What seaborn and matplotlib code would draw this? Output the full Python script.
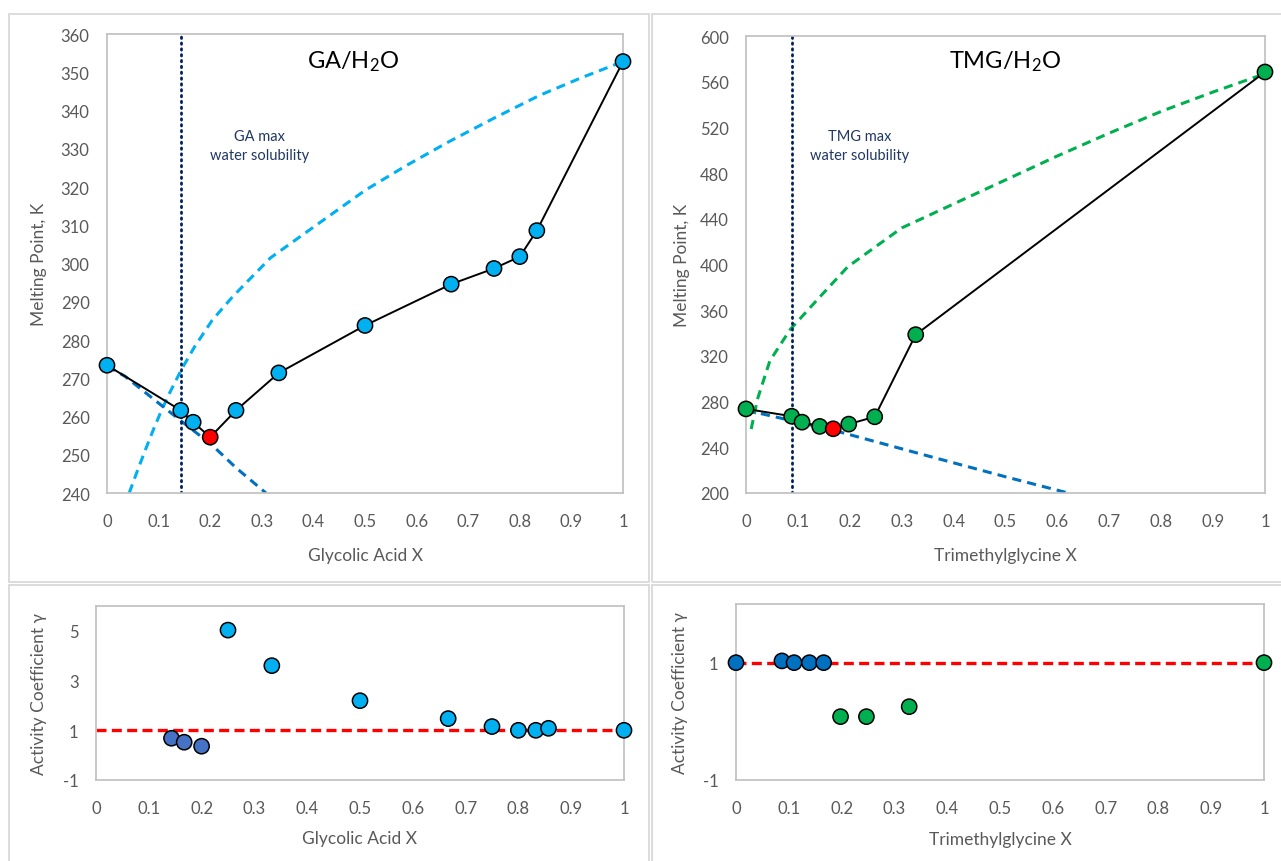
import numpy as np
import pandas as pd
import matplotlib
matplotlib.use("Agg")
import matplotlib.pyplot as plt
import seaborn as sns
from matplotlib.patches import Rectangle
from matplotlib.ticker import MultipleLocator, FuncFormatter, FixedLocator

# ---------------- data ----------------
# Glycolic acid / water melting points
ga_x = [0.0, 0.143, 0.167, 0.2, 0.25, 0.333, 0.5, 0.667, 0.75, 0.8, 0.833, 1.0]
ga_T = [273.4, 261.6, 258.5, 254.6, 261.6, 271.4, 283.8, 294.6, 298.7, 301.8, 308.6, 352.8]
ga_eutectic = 3
# ideal solubility curve of GA
ga_ideal_x = [0.043, 0.060, 0.075, 0.090, 0.105, 0.120, 0.144, 0.170, 0.204, 0.244, 0.317,
              0.400, 0.501, 0.580, 0.662, 0.750, 0.839, 0.920, 1.0]
ga_ideal_T = [240.0, 246.2, 251.5, 256.6, 261.4, 265.8, 272.2, 278.3, 285.2, 291.4, 301.5,
              309.5, 319.2, 325.6, 331.8, 338.0, 344.0, 348.6, 352.8]
# ideal freezing curve of water (GA system)
ga_water_x = [0.0, 0.035, 0.1, 0.144, 0.203, 0.25, 0.308]
ga_water_T = [273.15, 270.5, 263.5, 258.8, 252.6, 246.6, 240.0]
ga_sol_x = 0.143

# Trimethylglycine / water melting points
tmg_x = [0.0, 0.088, 0.108, 0.142, 0.168, 0.198, 0.248, 0.327, 1.0]
tmg_T = [273.6, 267.2, 262.0, 258.3, 256.2, 260.3, 266.7, 338.6, 568.5]
tmg_eutectic = 4
tmg_ideal_x = [0.010, 0.022, 0.046, 0.085, 0.141, 0.196, 0.300, 0.400, 0.500, 0.600, 0.700, 0.800, 0.900, 1.0]
tmg_ideal_T = [256.0, 282.0, 315.7, 343.0, 371.0, 398.0, 432.0, 453.0, 474.0, 495.0, 515.0, 534.0, 551.0, 567.0]
tmg_water_x = [0.0, 0.168, 0.346, 0.5, 0.625]
tmg_water_T = [272.5, 255.0, 233.0, 214.2, 199.5]
tmg_sol_x = 0.088

# activity coefficients
gam_ga_x = [0.143, 0.167, 0.2, 0.25, 0.333, 0.5, 0.667, 0.75, 0.8, 0.833, 0.857, 1.0]
gam_ga = [0.68, 0.52, 0.36, 5.03, 3.6, 2.19, 1.47, 1.15, 1.0, 1.0, 1.08, 1.0]
gam_ga_group = ["low"] * 3 + ["high"] * 9

gam_tmg_x = [0.0, 0.087, 0.11, 0.139, 0.166, 0.198, 0.247, 0.328, 1.0]
gam_tmg = [1.0, 1.03, 1.0, 1.0, 1.0, 0.08, 0.08, 0.25, 1.0]
gam_tmg_group = ["water"] * 5 + ["tmg"] * 4

ideal_x = [0.0, 1.0]
ideal_gamma = [1.0, 1.0]

# ---------------- style ----------------
sns.set_theme(style="white")
plt.rcParams["font.family"] = ["Lato", "DejaVu Sans"]
plt.rcParams["mathtext.fontset"] = "custom"
plt.rcParams["mathtext.rm"] = "Lato"
plt.rcParams["mathtext.it"] = "Lato"

GRAY_TXT = "#595959"
SPINE = "#bfbfbf"
LBLUE = "#00B0F0"
DBLUE = "#0070C0"
GREEN = "#00B050"
RED = "#FF0000"
NAVY = "#002060"
TXTBLUE = "#203864"
MS = 120

W, H = 1281, 862
fig = plt.figure(figsize=(W / 100, H / 100), dpi=100)


def px_axes(l, t, r, b):
    return fig.add_axes([l / W, 1 - b / H, (r - l) / W, (b - t) / H])


for (x0, y0, x1, y1) in [(9, 15, 649, 583), (652, 15, 1290, 583), (9, 586, 649, 880), (652, 586, 1290, 880)]:
    fig.add_artist(Rectangle((x0 / W, 1 - y1 / H), (x1 - x0) / W, (y1 - y0) / H,
                             transform=fig.transFigure, fill=False, ec="#d9d9d9", lw=1.3))

fmt = FuncFormatter(lambda v, p: f"{v:g}")


def style_axes(ax, ylim, ymajor, yminor, xlabel, ylabel, xlabel_y, ylabel_x, yticks=None):
    ax.set_xlim(0, 1)
    ax.set_ylim(*ylim)
    ax.xaxis.set_major_locator(MultipleLocator(0.1))
    ax.xaxis.set_minor_locator(MultipleLocator(0.02))
    if yticks is not None:
        ax.yaxis.set_major_locator(FixedLocator(yticks))
    else:
        ax.yaxis.set_major_locator(MultipleLocator(ymajor))
    ax.yaxis.set_minor_locator(FixedLocator(list(np.arange(ylim[0], ylim[1] + 1e-9, yminor))))
    ax.xaxis.set_major_formatter(fmt)
    ax.yaxis.set_major_formatter(fmt)
    for s in ax.spines.values():
        s.set_visible(True)
        s.set_color(SPINE)
        s.set_linewidth(1.2)
    ax.tick_params(axis="both", which="major", direction="inout", length=5, width=1,
                   color=SPINE, labelcolor=GRAY_TXT, labelsize=12)
    ax.tick_params(axis="both", which="minor", direction="in", length=3.5, width=1, color=SPINE)
    ax.tick_params(axis="x", which="major", pad=12)
    ax.tick_params(axis="y", which="major", pad=10)
    ax.set_xlabel(xlabel, color=GRAY_TXT, fontsize=12.5)
    ax.set_ylabel(ylabel, color=GRAY_TXT, fontsize=12.5)
    ax.xaxis.set_label_coords(0.5, xlabel_y)
    ax.yaxis.set_label_coords(ylabel_x, 0.5)
    ax.set_facecolor("white")


def dashed(ax, x, y, color, lw=2.2):
    sns.lineplot(x=x, y=y, ax=ax, color=color, lw=lw, sort=False, estimator=None,
                 linestyle=(0, (3, 2)), legend=False)


def melting_panel(ax, x, T, eut, curve_x, curve_T, water_x, water_T, sol_x, color, title, note,
                  title_xy, note_xy):
    dashed(ax, curve_x, curve_T, LBLUE if color == LBLUE else GREEN)
    dashed(ax, water_x, water_T, DBLUE)
    ax.axvline(sol_x, color=NAVY, lw=2.0, linestyle=(0, (0.5, 1.6)), dash_capstyle="round", zorder=2)
    sns.lineplot(x=x, y=T, ax=ax, color="black", lw=1.4, sort=False, estimator=None, zorder=3, legend=False)
    cols = [RED if i == eut else color for i in range(len(x))]
    df = pd.DataFrame({"x": x, "T": T, "c": cols})
    sns.scatterplot(data=df, x="x", y="T", hue="c", palette={RED: RED, color: color}, ax=ax, s=MS,
                    edgecolor="black", linewidth=1.1, zorder=4, legend=False, clip_on=False)
    ax.text(title_xy[0], title_xy[1], title, fontsize=17, color="black", ha="center", va="center")
    ax.text(note_xy[0], note_xy[1], note, fontsize=10.5, color=TXTBLUE, ha="center", va="center",
            linespacing=1.5)


# ---- top left ----
ax1 = px_axes(107, 35, 623, 494)
melting_panel(ax1, ga_x, ga_T, ga_eutectic, ga_ideal_x, ga_ideal_T, ga_water_x, ga_water_T,
              ga_sol_x, LBLUE, "GA/H$_2$O", "GA max\nwater solubility", (0.477, 353.0), (0.295, 330.8))
style_axes(ax1, (240, 360), 10, 2, "Glycolic Acid X", "Melting Point, K", -0.118, -0.116)

# ---- top right ----
ax2 = px_axes(746, 37, 1265, 494)
melting_panel(ax2, tmg_x, tmg_T, tmg_eutectic, tmg_ideal_x, tmg_ideal_T, tmg_water_x, tmg_water_T,
              tmg_sol_x, GREEN, "TMG/H$_2$O", "TMG max\nwater solubility", (0.5, 578.0), (0.219, 504.0))
style_axes(ax2, (200, 600), 40, 8, "Trimethylglycine X", "Melting Point, K", -0.118, -0.108)

# ---- bottom left ----
ax3 = px_axes(96, 607, 624, 781)
sns.lineplot(x=ideal_x, y=ideal_gamma, ax=ax3, color=RED, lw=2.4, linestyle=(0, (3, 1.6)),
             estimator=None, legend=False, zorder=2)
df3 = pd.DataFrame({"x": gam_ga_x, "g": gam_ga, "grp": gam_ga_group})
sns.scatterplot(data=df3, x="x", y="g", hue="grp", palette={"low": "#4472C4", "high": LBLUE}, ax=ax3,
                s=MS, edgecolor="black", linewidth=1.1, zorder=4, legend=False, clip_on=False)
style_axes(ax3, (-1, 6), 2, 0.4, "Glycolic Acid X", "Activity Coefficient γ", -0.29, -0.093,
           yticks=[-1, 1, 3, 5])

# ---- bottom right ----
ax4 = px_axes(736, 605, 1264, 781)
sns.lineplot(x=ideal_x, y=ideal_gamma, ax=ax4, color=RED, lw=2.4, linestyle=(0, (3, 1.6)),
             estimator=None, legend=False, zorder=2)
df4 = pd.DataFrame({"x": gam_tmg_x, "g": gam_tmg, "grp": gam_tmg_group})
sns.scatterplot(data=df4, x="x", y="g", hue="grp", palette={"water": DBLUE, "tmg": GREEN}, ax=ax4,
                s=MS, edgecolor="black", linewidth=1.1, zorder=4, legend=False, clip_on=False)
style_axes(ax4, (-1, 2), 2, 0.4, "Trimethylglycine X", "Activity Coefficient γ", -0.29, -0.091,
           yticks=[-1, 1])

fig.savefig("out.png", dpi=100, facecolor="white")
